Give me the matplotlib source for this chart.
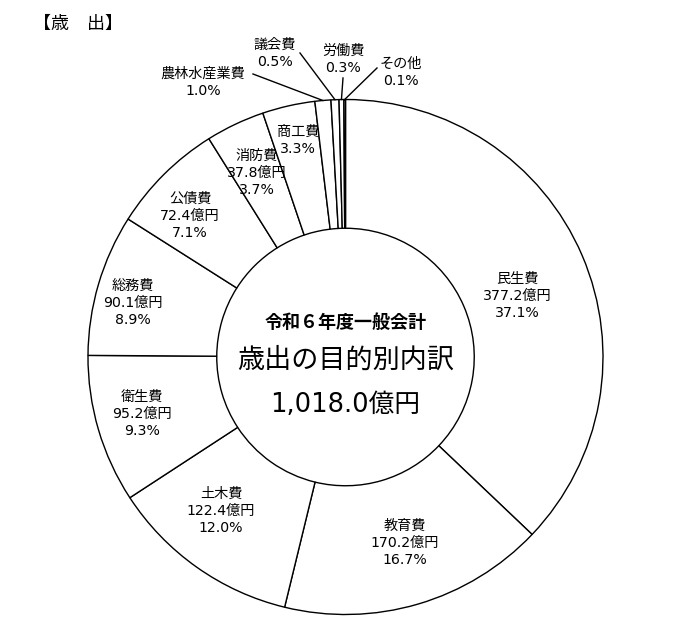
import numpy as np
import matplotlib
matplotlib.use("Agg")
import matplotlib.pyplot as plt

plt.rcParams['font.family'] = ['Noto Sans CJK JP', 'DejaVu Sans']
MIXED = ['DejaVu Sans', 'Noto Sans CJK JP']

# 歳出の目的別内訳（令和6年度一般会計）
categories = ["民生費", "教育費", "土木費", "衛生費", "総務費", "公債費",
              "消防費", "商工費", "農林水産業費", "議会費", "労働費", "その他"]
amounts = [377.2, 170.2, 122.4, 95.2, 90.1, 72.4, 37.8, None, None, None, None, None]
percents = [37.1, 16.7, 12.0, 9.3, 8.9, 7.1, 3.7, 3.3, 1.0, 0.5, 0.3, 0.1]

total_label = "1,018.0億円"

# ラベル位置（ピクセル座標, 上から）
label_pos = {
    "民生費": (517, 296),
    "教育費": (405, 543),
    "土木費": (221, 511),
    "衛生費": (142, 414),
    "総務費": (133, 303),
    "公債費": (190, 216),
    "消防費": (257, 173),
    "商工費": (298, 140),
    "農林水産業費": (203, 82),
    "議会費": (275, 53),
    "労働費": (343, 59),
    "その他": (401, 72),
}
# 引き出し線の始点
leader_start = {
    "農林水産業費": (253, 74),
    "議会費": (300, 53),
    "労働費": (343, 78),
    "その他": (377, 68),
}

W, H = 700, 640
CX, CY = 345.5, H - 357
R = 257.5

fig = plt.figure(figsize=(7, 6.4), dpi=100)
ax = fig.add_axes([0, 0, 1, 1])

wedges, _ = ax.pie(
    percents, startangle=90, counterclock=False, radius=R, center=(CX, CY),
    wedgeprops=dict(width=R / 2, facecolor="white", edgecolor="black", linewidth=1.0),
    normalize=True,
)
ax.set_xlim(0, W)
ax.set_ylim(0, H)
ax.set_aspect("equal")
ax.axis("off")

fs = 10.2
for i, cat in enumerate(categories):
    x, y = label_pos[cat]
    lines = [cat]
    if amounts[i] is not None:
        lines.append(f"{amounts[i]:.1f}億円")
    lines.append(f"{percents[i]:.1f}%")
    ax.text(x, H - y, "\n".join(lines), ha="center", va="center",
            fontsize=fs, linespacing=1.3, family=MIXED)

    if cat in leader_start:
        w = wedges[i]
        mid = np.deg2rad((w.theta1 + w.theta2) / 2)
        ex, ey = CX + R * np.cos(mid), CY + R * np.sin(mid)
        sx, sy = leader_start[cat]
        ax.plot([sx, ex], [H - sy, ey], color="black", lw=1.0)

# 中央の文字
ax.text(CX, H - 322, "令和６年度一般会計", ha="center", va="center",
        fontsize=13, fontweight="bold")
ax.text(CX, H - 360, "歳出の目的別内訳", ha="center", va="center", fontsize=19.5)
ax.text(CX, H - 405, total_label, ha="center", va="center", fontsize=18.5,
        family=MIXED)

# 見出し
ax.text(33, H - 24, "【歳　出】", ha="left", va="center", fontsize=13)

fig.savefig("out.png", dpi=100)
